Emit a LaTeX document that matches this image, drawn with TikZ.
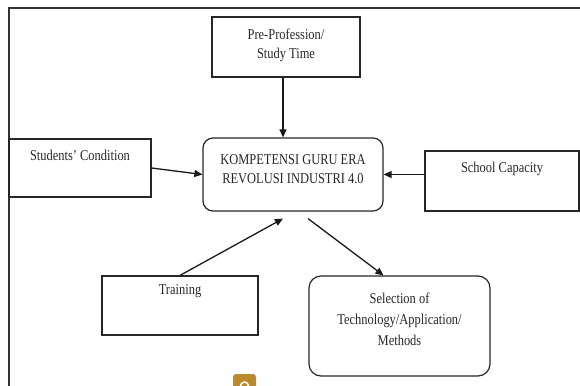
\documentclass[tikz,border=0pt]{standalone}
\usepackage{fontspec}
\setmainfont{Liberation Serif}[FakeStretch=0.83]
\usetikzlibrary{arrows.meta}
\begin{document}
\begin{tikzpicture}[x=1pt,y=-1pt,
  box/.style={draw=black!85, line width=1.2pt, inner sep=0pt},
  rbox/.style={box, rounded corners=10pt},
  lbl/.style={font=\fontsize{15}{19}\selectfont, align=center, inner sep=0pt, text=black!85},
  conn/.style={-{Triangle[length=8pt,width=7pt]}, line width=1.3pt, black!90}]
\useasboundingbox (0,0) rectangle (580,385);
\draw[line width=1.3pt, black!80] (9,392) -- (9,8) -- (590,8);

\node[box, minimum width=148pt, minimum height=60pt,
  label={[lbl, yshift=2pt]center:{Pre-Profession/\\Study Time}}] (pre) at (286,47) {};
\node[rbox, minimum width=180pt, minimum height=73pt,
  label={[lbl, yshift=5pt]center:{KOMPETENSI GURU ERA\\REVOLUSI INDUSTRI 4.0}}] (central) at (293,174.5) {};
\node[box, minimum width=142pt, minimum height=58pt,
  label={[lbl, yshift=13pt]center:{Students' Condition}}] (stud) at (80,168) {};
\node[box, minimum width=154pt, minimum height=60pt,
  label={[lbl, yshift=12.5pt]center:{School Capacity}}] (school) at (502,181) {};
\node[box, minimum width=156pt, minimum height=59pt,
  label={[lbl, yshift=14pt]center:{Training}}] (train) at (180,305.5) {};
\node[rbox, rounded corners=12pt, minimum width=181pt, minimum height=100pt,
  label={[lbl, font=\fontsize{15}{21}\selectfont, yshift=7pt]center:{Selection of\\Technology/Application/\\Methods}}] (sel) at (399.5,326) {};

\draw[conn] ([xshift=-3pt]pre.south) -- ([xshift=-3pt]pre.south |- central.north);
\draw[conn] (stud.east) -- (central.west);
\draw[conn] (school.west |- central.west) -- (central.east);
\draw[conn] (train.north) -- ([xshift=-10pt,yshift=-7pt]central.south);
\draw[conn] ([xshift=15pt,yshift=-7pt]central.south) -- ([xshift=-16pt]sel.north);

\fill[fill={rgb,255:red,185;green,138;blue,46}, rounded corners=3pt] (233,374) rectangle (256,395);
\draw[white, line width=1.5pt] (244.5,386) circle (4);
\end{tikzpicture}
\end{document}
